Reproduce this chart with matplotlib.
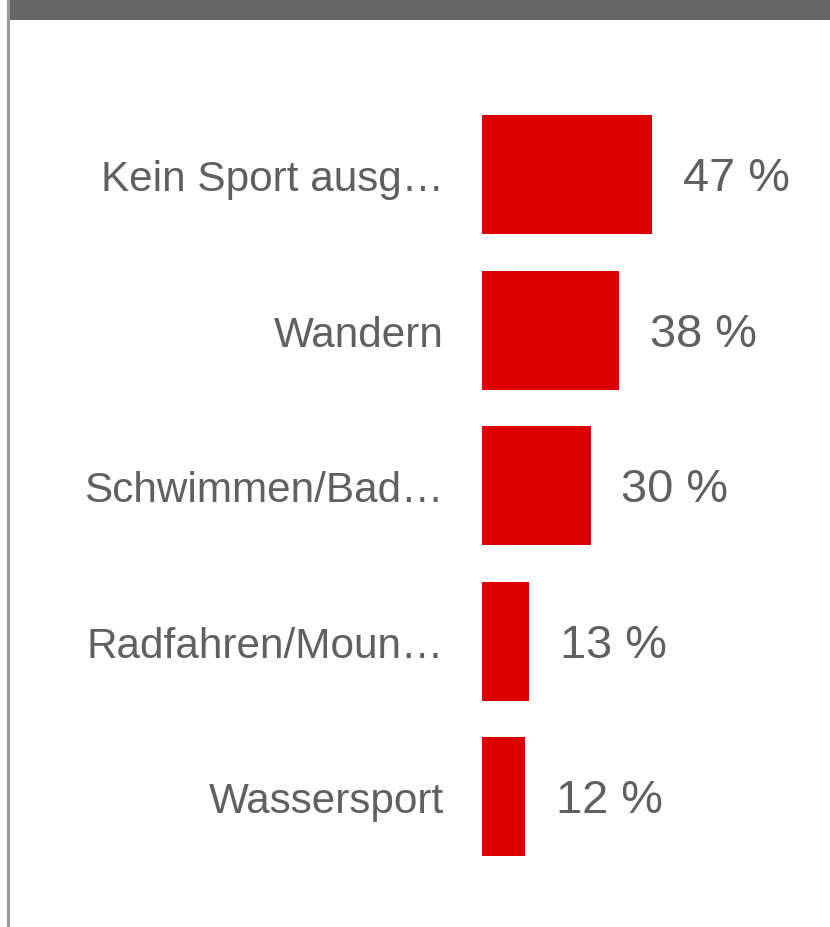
import matplotlib.pyplot as plt
from matplotlib.patches import Rectangle

categories = ["Kein Sport ausg…", "Wandern", "Schwimmen/Bad…", "Radfahren/Moun…", "Wassersport"]
values = [47, 38, 30, 13, 12]

W, H = 830, 928
fig = plt.figure(figsize=(W / 100, H / 100), dpi=100)
fig.patch.set_facecolor("white")

# header band and left rule
fig.patches.append(Rectangle((8 / W, 1 - 21 / H), 1, 21 / H, transform=fig.transFigure,
                             facecolor="#666666", edgecolor="none", zorder=5))
fig.patches.append(Rectangle((7 / W, 0), 3 / W, 1, transform=fig.transFigure,
                             facecolor="#999999", edgecolor="none", zorder=5))

# axes placed so bars start at x=482px, ~3.62 px per percent
left = 482 / W
ax = fig.add_axes([left, (H - 875.5) / H, 1 - left, 777.5 / H])
ypos = list(range(len(categories)))
ax.barh(ypos, values, height=0.766, color="#dd0000")
ax.set_xlim(0, (W - 482) / 3.617)
ax.set_ylim(4.5, -0.5)

ax.set_yticks(ypos)
ax.set_yticklabels(categories, fontsize=30.4, color="#606060", family="Liberation Sans",
                   va="center_baseline")
ax.tick_params(axis="y", length=0, pad=27.4)
ax.set_xticks([])
for s in ax.spines.values():
    s.set_visible(False)

for y, v in zip(ypos, values):
    ax.annotate(f"{v} %", xy=(v, y), xytext=(22.3, -2.5), textcoords="offset points",
                va="center", ha="left", fontsize=33.8, color="#606060",
                family="Liberation Sans")

fig.savefig("out.png", dpi=100)
